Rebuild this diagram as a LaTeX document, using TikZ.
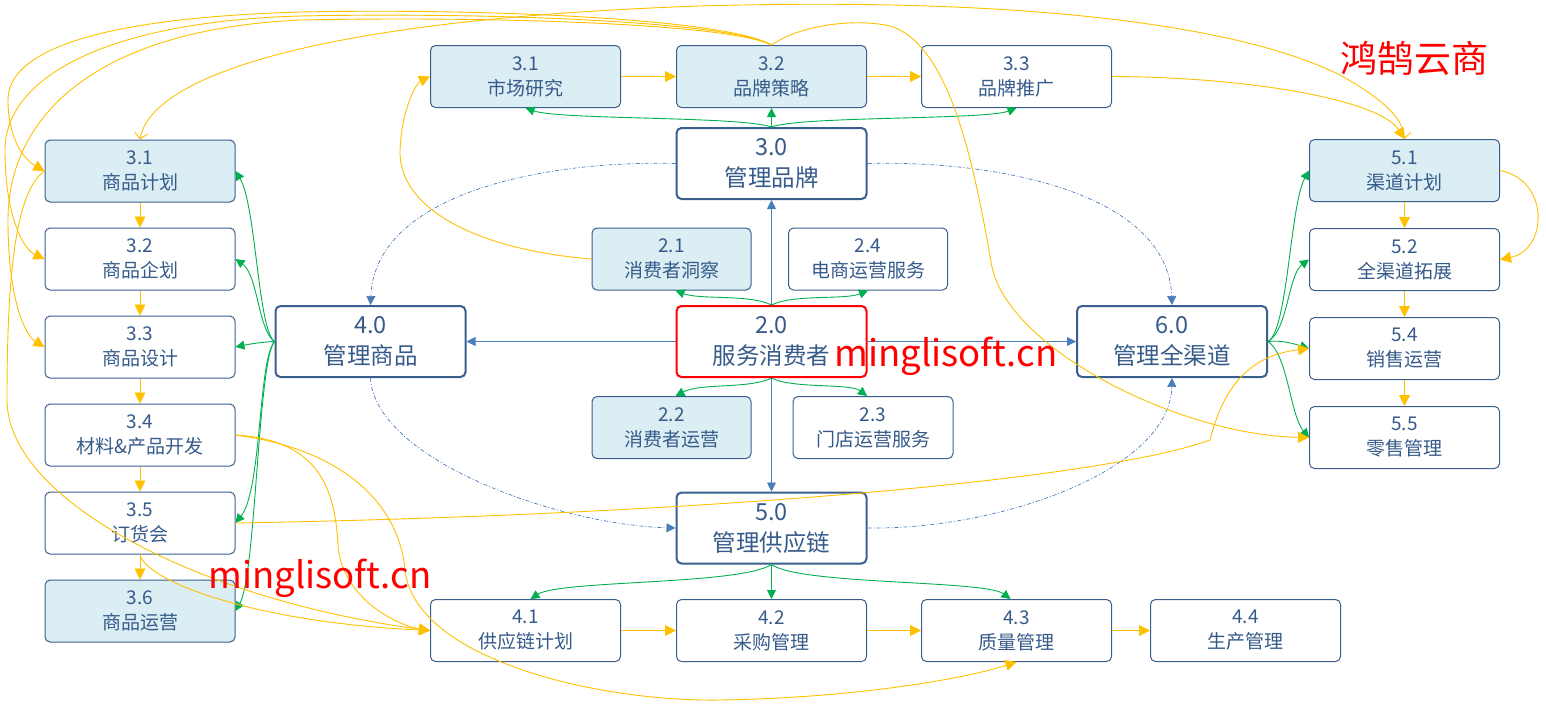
\documentclass[tikz,border=0pt]{standalone}
\usepackage{fontspec}
\setmainfont{Noto Sans CJK SC}
\usepackage{xcolor}
\usepackage{tikz}
\usetikzlibrary{arrows.meta,positioning}
\definecolor{boxblue}{HTML}{3A5F8F}
\definecolor{txtblue}{HTML}{365A8A}
\definecolor{lightaqua}{HTML}{DAEEF3}
\definecolor{ylw}{HTML}{FFC000}
\definecolor{grn}{HTML}{00B050}
\definecolor{blu}{HTML}{4A7EBB}
\begin{document}
\begin{tikzpicture}[
    x=1pt, y=-1pt,
    box/.style={rectangle, draw=boxblue, line width=1pt, rounded corners=5pt, align=center, minimum width=190pt, minimum height=62pt, inner sep=0pt, text=txtblue, font=\fontsize{19}{25}\selectfont},
    shaded/.style={box, fill=lightaqua},
    smallbox/.style={box, minimum width=159pt},
    mainbox/.style={box, line width=2pt, minimum height=71pt, font=\fontsize{23.5}{31}\selectfont},
    yarrow/.style={draw=ylw, line width=0.9pt, -{Triangle[length=11pt,width=11pt]}},
    garrow/.style={draw=grn, line width=0.9pt, -{Triangle[length=9pt,width=9pt]}},
    barrow/.style={draw=blu, line width=0.9pt, -{Triangle[length=9pt,width=9pt]}},
    dlink/.style={draw=blu, line width=0.7pt, dash pattern=on 4pt off 2pt on 1pt off 2pt, -{Triangle[length=9pt,width=9pt]}},
    openarr/.style={draw=ylw, line width=0.9pt, {Straight Barb[length=6pt,width=13pt]}-{Straight Barb[length=6pt,width=13pt]}},
    wmark/.style={text=red, inner sep=0pt}
]
\useasboundingbox (0,0) rectangle (1546,710);
\node[mainbox] (c30) at (771.5,163.5) {3.0\\管理品牌};
\node[mainbox, draw=red] (c20) at (771.5,341.5) {2.0\\服务消费者};
\node[mainbox] (c40) at (370.5,341.5) {4.0\\管理商品};
\node[mainbox] (c60) at (1172,341.5) {6.0\\管理全渠道};
\node[mainbox] (c50) at (771.5,528) {5.0\\管理供应链};
\node[shaded] (b32) at (771.5,76.5) {3.2\\品牌策略};
\node[shaded, left=55pt of b32] (b31) {3.1\\市场研究};
\node[box, right=54pt of b32] (b33) {3.3\\品牌推广};
\node[smallbox, fill=lightaqua] (s21) at (671.5,259) {2.1\\消费者洞察};
\node[smallbox] (s24) at (868,259) {2.4\\电商运营服务};
\node[smallbox, fill=lightaqua] (s22) at (671.5,427.5) {2.2\\消费者运营};
\node[smallbox, minimum width=160pt] (s23) at (873,427.5) {2.3\\门店运营服务};
\node[box] (g42) at (771.5,630.5) {4.2\\采购管理};
\node[box, left=55pt of g42] (g41) {4.1\\供应链计划};
\node[box, right=54pt of g42] (g43) {4.3\\质量管理};
\node[box, right=38pt of g43] (g44) {4.4\\生产管理};
\node[shaded] (p31) at (140,171) {3.1\\商品计划};
\node[box, below=25pt of p31] (p32) {3.2\\商品企划};
\node[box, below=25pt of p32] (p33) {3.3\\商品设计};
\node[box, below=25pt of p33] (p34) {3.4\\材料\&产品开发};
\node[box, below=25pt of p34] (p35) {3.5\\订货会};
\node[shaded, below=25pt of p35] (p36) {3.6\\商品运营};
\node[shaded] (r51) at (1404.5,170.5) {5.1\\渠道计划};
\node[box, below=26pt of r51] (r52) {5.2\\全渠道拓展};
\node[box, below=26pt of r52] (r54) {5.4\\销售运营};
\node[box, below=26pt of r54] (r55) {5.5\\零售管理};
\draw[barrow] (c20.north) -- (c30.south);
\draw[barrow] (c20.south) -- (c50.north);
\draw[barrow] (c20.west) -- (c40.east);
\draw[barrow] (c20.east) -- (c60.west);
\draw[dlink] (c30.west) .. controls (540,160) and (375,195) .. (c40.north);
\draw[dlink] (c30.east) .. controls (1003,160) and (1168,195) .. (c60.north);
\draw[dlink] (c40.south) .. controls (375,460) and (560,525) .. (c50.west);
\draw[dlink] (c50.east) .. controls (1000,530) and (1170,470) .. (c60.south);
\draw[garrow] (c30.north) .. controls (740,116) and (560,120) .. (b31.south);
\draw[garrow] (c30.north) -- (b32.south);
\draw[garrow] (c30.north) .. controls (800,116) and (985,120) .. (b33.south);
\draw[garrow] (c20.north) .. controls (750,294) and (700,300) .. ([xshift=4pt]s21.south);
\draw[garrow] (c20.north) .. controls (793,294) and (845,300) .. (s24.south);
\draw[garrow] (c20.south) .. controls (750,389) and (700,383) .. ([xshift=4pt]s22.north);
\draw[garrow] (c20.south) .. controls (793,389) and (850,383) .. ([xshift=-6pt]s23.north);
\draw[garrow] (c50.south) .. controls (740,585) and (560,580) .. ([xshift=5pt]g41.north);
\draw[garrow] (c50.south) -- (g42.north);
\draw[garrow] (c50.south) .. controls (800,585) and (985,580) .. ([xshift=-6pt]g43.north);
\draw[garrow] (c40.west) .. controls (258,330) and (256,205) .. (p31.east);
\draw[garrow] (c40.west) .. controls (258,330) and (258,275) .. (p32.east);
\draw[garrow] (c40.west) .. controls (262,342) and (250,344) .. (p33.east);
\draw[garrow] (c40.west) .. controls (258,360) and (262,490) .. (p35.east);
\draw[garrow] (c40.west) .. controls (258,360) and (256,575) .. (p36.east);
\draw[garrow] (c60.east) .. controls (1288,330) and (1290,205) .. (r51.west);
\draw[garrow] (c60.east) .. controls (1288,330) and (1288,275) .. (r52.west);
\draw[garrow] (c60.east) .. controls (1282,340) and (1295,344) .. (r54.west);
\draw[garrow] (c60.east) .. controls (1288,355) and (1290,415) .. (r55.west);
\draw[yarrow] (b31) -- (b32);
\draw[yarrow] (b32) -- (b33);
\draw[yarrow] (p31) -- (p32);
\draw[yarrow] (p32) -- (p33);
\draw[yarrow] (p33) -- (p34);
\draw[yarrow] (p34) -- (p35);
\draw[yarrow] (p35) -- (p36);
\draw[yarrow] (r51) -- (r52);
\draw[yarrow] (r52) -- (r54);
\draw[yarrow] (r54) -- (r55);
\draw[yarrow] (g41) -- (g42);
\draw[yarrow] (g42) -- (g43);
\draw[yarrow] (g43) -- (g44);
\draw[yarrow] (b32.north) .. controls (730,20) and (500,8) .. (300,12) .. controls (100,18) and (8,50) .. (8,100) .. controls (8,140) and (25,160) .. (p31.west);
\draw[yarrow] (b32.north) .. controls (730,22) and (500,12) .. (300,16) .. controls (100,22) and (5,80) .. (5,150) .. controls (5,220) and (25,250) .. (p32.west);
\draw[yarrow] (b32.north) .. controls (730,24) and (500,16) .. (300,20) .. controls (90,30) and (8,120) .. (8,220) .. controls (8,300) and (25,335) .. (p33.west);
\draw[yarrow] (b32.north) .. controls (800,25) and (855,18) .. (890,26) .. controls (955,45) and (978,190) .. (992,267) .. controls (1010,350) and (1180,435) .. (r55.west);
\draw[openarr] (p31.north) .. controls (150,80) and (300,20) .. (700,6) .. controls (1050,-4) and (1250,30) .. (1340,75) .. controls (1385,100) and (1404,120) .. (r51.north);
\draw[yarrow] (b33.east) .. controls (1250,77) and (1380,100) .. (r51.north);
\draw[yarrow] (s21.west) .. controls (480,250) and (398,210) .. (400,150) .. controls (402,105) and (418,82) .. (b31.west);
\draw[yarrow] (p31.west) .. controls (18,190) and (7,260) .. (7,400) .. controls (7,500) and (200,600) .. (g41.west);
\draw[yarrow] (p35.south) .. controls (145,580) and (250,622) .. (g41.west);
\draw[yarrow] (p34.east) .. controls (320,440) and (335,490) .. (338,545) .. controls (342,600) and (400,626) .. (g41.west);
\draw[yarrow] (p34.east) .. controls (350,450) and (400,510) .. (405,570) .. controls (415,660) and (600,702) .. (720,700) .. controls (850,698) and (960,680) .. (g43.south);
\draw[yarrow] (p35.east) .. controls (700,515) and (1100,480) .. (1210,440) .. controls (1225,380) and (1255,355) .. (r54.west);
\draw[yarrow] (r51.east) .. controls (1550,180) and (1548,250) .. (r52.east);
\node[wmark, font=\fontsize{37}{37}\selectfont] (brand) at (1414,58) {鸿鹄云商};
\node[wmark, font=\fontsize{36.5}{36.5}\selectfont] (wmA) at (946,356) {minglisoft.cn};
\node[wmark, font=\fontsize{36.5}{36.5}\selectfont] (wmB) at (320,578) {minglisoft.cn};
\end{tikzpicture}
\end{document}
